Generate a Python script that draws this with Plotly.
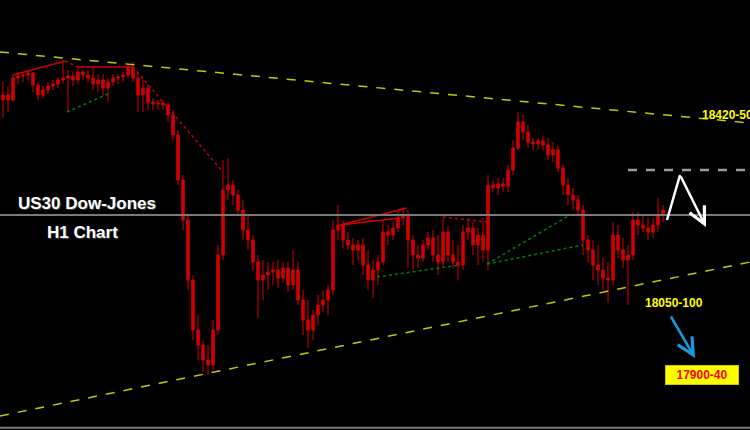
import plotly.graph_objects as go

# hourly bars, index 0..132
bar_open = [18460, 18470, 18460, 18504, 18508, 18510, 18514, 18490, 18470, 18480,
            18488, 18492, 18500, 18504, 18508, 18500, 18516, 18510, 18504, 18492,
            18500, 18484, 18496, 18504, 18506, 18510, 18524, 18504, 18470, 18484,
            18456, 18452, 18454, 18450, 18430, 18390, 18300, 18220, 18100, 18000,
            17970, 17940, 17930, 18000, 18150, 18280, 18290, 18270, 18240, 18200,
            18180, 18136, 18100, 18110, 18116, 18120, 18104, 18124, 18090, 18120,
            18060, 18020, 18000, 18030, 18050, 18060, 18080, 18200, 18210, 18180,
            18170, 18160, 18170, 18130, 18100, 18120, 18136, 18196, 18190, 18204,
            18224, 18230, 18180, 18150, 18144, 18170, 18184, 18150, 18136, 18196,
            18150, 18136, 18130, 18196, 18204, 18170, 18190, 18160, 18290, 18284,
            18292, 18288, 18320, 18364, 18416, 18396, 18376, 18372, 18378, 18370,
            18350, 18360, 18324, 18290, 18270, 18260, 18240, 18180, 18160, 18130,
            18120, 18104, 18100, 18190, 18160, 18140, 18150, 18220, 18210, 18204,
            18196, 18210, 18230]
bar_high = [18496, 18488, 18512, 18516, 18516, 18520, 18516, 18496, 18488, 18496,
            18500, 18506, 18540, 18520, 18516, 18528, 18520, 18520, 18524, 18512,
            18512, 18504, 18512, 18512, 18516, 18532, 18536, 18516, 18500, 18492,
            18464, 18460, 18460, 18456, 18440, 18400, 18310, 18230, 18110, 18030,
            17980, 17970, 18020, 18170, 18340, 18344, 18300, 18280, 18260, 18230,
            18190, 18150, 18140, 18136, 18136, 18140, 18136, 18136, 18160, 18136,
            18080, 18060, 18040, 18070, 18080, 18090, 18220, 18250, 18220, 18196,
            18184, 18180, 18184, 18160, 18140, 18150, 18220, 18210, 18216, 18236,
            18246, 18240, 18190, 18170, 18180, 18196, 18200, 18190, 18224, 18208,
            18180, 18170, 18210, 18224, 18216, 18204, 18224, 18310, 18300, 18304,
            18304, 18330, 18380, 18436, 18430, 18410, 18384, 18384, 18388, 18384,
            18376, 18370, 18330, 18304, 18284, 18270, 18250, 18190, 18180, 18170,
            18144, 18136, 18216, 18210, 18184, 18170, 18236, 18236, 18230, 18224,
            18224, 18264, 18250]
bar_low = [18424, 18436, 18456, 18492, 18496, 18500, 18476, 18460, 18464, 18472,
           18480, 18484, 18492, 18436, 18488, 18492, 18500, 18496, 18480, 18476,
           18468, 18456, 18488, 18492, 18496, 18504, 18496, 18436, 18436, 18440,
           18440, 18440, 18440, 18416, 18380, 18290, 18200, 18080, 17980, 17940,
           17916, 17910, 17920, 17990, 18140, 18260, 18250, 18230, 18180, 18160,
           18120, 18024, 18060, 18080, 18090, 18084, 18096, 18076, 18080, 18050,
           17990, 17964, 17980, 18010, 18036, 18030, 18070, 18180, 18164, 18160,
           18130, 18140, 18110, 18080, 18064, 18090, 18130, 18170, 18180, 18196,
           18210, 18124, 18120, 18124, 18136, 18160, 18136, 18110, 18124, 18136,
           18124, 18100, 18120, 18180, 18150, 18130, 18136, 18120, 18276, 18270,
           18276, 18276, 18310, 18360, 18380, 18364, 18360, 18360, 18360, 18340,
           18336, 18316, 18270, 18250, 18240, 18230, 18150, 18136, 18100, 18090,
           18080, 18054, 18090, 18144, 18124, 18050, 18140, 18190, 18196, 18180,
           18184, 18196, 18216]
bar_close = [18470, 18460, 18504, 18508, 18510, 18514, 18490, 18470, 18480, 18488,
             18492, 18500, 18504, 18508, 18500, 18516, 18510, 18504, 18492, 18500,
             18484, 18496, 18504, 18506, 18510, 18524, 18504, 18470, 18484, 18456,
             18452, 18454, 18450, 18430, 18390, 18300, 18220, 18100, 18000, 17970,
             17940, 17930, 18000, 18150, 18280, 18290, 18270, 18240, 18200, 18180,
             18136, 18100, 18110, 18116, 18120, 18104, 18124, 18090, 18120, 18060,
             18020, 18000, 18030, 18050, 18060, 18080, 18200, 18210, 18180, 18170,
             18160, 18170, 18130, 18100, 18120, 18136, 18196, 18190, 18204, 18224,
             18230, 18180, 18150, 18144, 18170, 18184, 18150, 18136, 18196, 18150,
             18136, 18130, 18196, 18204, 18170, 18190, 18160, 18290, 18284, 18292,
             18288, 18320, 18364, 18416, 18396, 18376, 18372, 18378, 18370, 18350,
             18360, 18324, 18290, 18270, 18260, 18240, 18180, 18160, 18130, 18120,
             18104, 18100, 18190, 18160, 18140, 18150, 18220, 18210, 18204, 18196,
             18210, 18230, 18240]
bars = list(range(len(bar_close)))

# drawn levels: (x0, y0, x1, y1)
upper_channel = (-0.6, 18556, 149.4, 18414)
lower_channel = (-0.6, 17828, 149.4, 18136)
pivot_level = 18230
resistance_level = 18320
red_solid = [(2.0, 18510, 12.4, 18538), (15, 18526, 26, 18526),
             (67.4, 18210, 80.8, 18244), (67.4, 18210, 79.4, 18224)]
red_dotted = [(12.4, 18538, 15, 18526), (26, 18526, 44, 18316),
              (88, 18226, 96.8, 18216)]
green_dotted = [(12.8, 18436, 21.4, 18474), (74.8, 18106, 91.4, 18130),
                (96.8, 18132, 113.4, 18230), (96.8, 18132, 116, 18170)]

fig = go.Figure()

fig.add_trace(go.Candlestick(
    x=bars, open=bar_open, high=bar_high, low=bar_low, close=bar_close,
    increasing=dict(line=dict(color="#d40000", width=1), fillcolor="#d40000"),
    decreasing=dict(line=dict(color="#d40000", width=1), fillcolor="#d40000"),
    whiskerwidth=0,
    showlegend=False,
))


def seg(p, color, dash, width):
    fig.add_shape(type="line", x0=p[0], y0=p[1], x1=p[2], y1=p[3],
                  line=dict(color=color, dash=dash, width=width))


seg(upper_channel, "#c8c800", "dash", 1.5)
seg(lower_channel, "#c8c800", "dash", 1.5)
for p in red_solid:
    seg(p, "#d00000", "solid", 1.5)
for p in red_dotted:
    seg(p, "#c00000", "dot", 1.5)
for p in green_dotted:
    seg(p, "#008000", "dot", 1.5)

fig.add_shape(type="line", xref="paper", x0=0, x1=1, y0=pivot_level, y1=pivot_level,
              line=dict(color="#7a7a7a", width=2))
fig.add_shape(type="line", x0=125, x1=149.4, y0=resistance_level, y1=resistance_level,
              line=dict(color="#9a9a9a", width=2.5, dash="dash"))
fig.add_shape(type="line", xref="paper", yref="paper", x0=0, x1=1, y0=0.005, y1=0.005,
              line=dict(color="#7a7a7a", width=2))

# white zig-zag forecast
fig.add_shape(type="line", x0=132.8, y0=18220, x1=135.4, y1=18310,
              line=dict(color="white", width=2.5))
fig.add_annotation(x=140.6, y=18206, ax=135.4, ay=18310, axref="x", ayref="y",
                   showarrow=True, arrowhead=5, arrowsize=1.3, arrowwidth=2.5,
                   arrowcolor="white", text="")
# blue arrow
fig.add_annotation(x=138.4, y=17944, ax=133.4, ay=18030, axref="x", ayref="y",
                   showarrow=True, arrowhead=5, arrowsize=1.3, arrowwidth=2.5,
                   arrowcolor="#1a9ae0", text="")

label_font = dict(family="Liberation Sans, Arial", size=12, color="#ffff00")
fig.add_annotation(x=139.4, y=18430, text="<b>18420-50</b>", showarrow=False,
                   xanchor="left", font=label_font)
fig.add_annotation(x=134.2, y=18054, text="<b>18050-100</b>", showarrow=False,
                   font=label_font)
fig.add_annotation(x=139.8, y=17910, text="<b>17900-40</b>", showarrow=False,
                   bgcolor="#ffff00", bordercolor="#c8c800", borderwidth=1,
                   width=70, height=16,
                   font=dict(family="Liberation Sans, Arial", size=12, color="#ff0000"))

title_font = dict(family="Liberation Sans, Arial", size=17, color="white",
                  shadow="1px 1px 1px #404040")
fig.add_annotation(x=87 / 750, y=1 - 203 / 430, xref="paper", yref="paper",
                   xanchor="center", yanchor="middle",
                   text="<b>US30 Dow-Jones</b>", showarrow=False, font=title_font)
fig.add_annotation(x=82 / 750, y=1 - 232 / 430, xref="paper", yref="paper",
                   xanchor="center", yanchor="middle",
                   text="<b>H1 Chart</b>", showarrow=False, font=title_font)

fig.update_layout(
    width=750, height=430,
    margin=dict(l=0, r=0, t=0, b=0),
    paper_bgcolor="black", plot_bgcolor="black",
    showlegend=False,
)
fig.update_xaxes(range=[-0.6, 149.4], visible=False, rangeslider_visible=False)
fig.update_yaxes(range=[17800, 18660], visible=False)

fig.write_html("out.html", config={"displayModeBar": False},
               post_script="document.body.style.margin='0';")
